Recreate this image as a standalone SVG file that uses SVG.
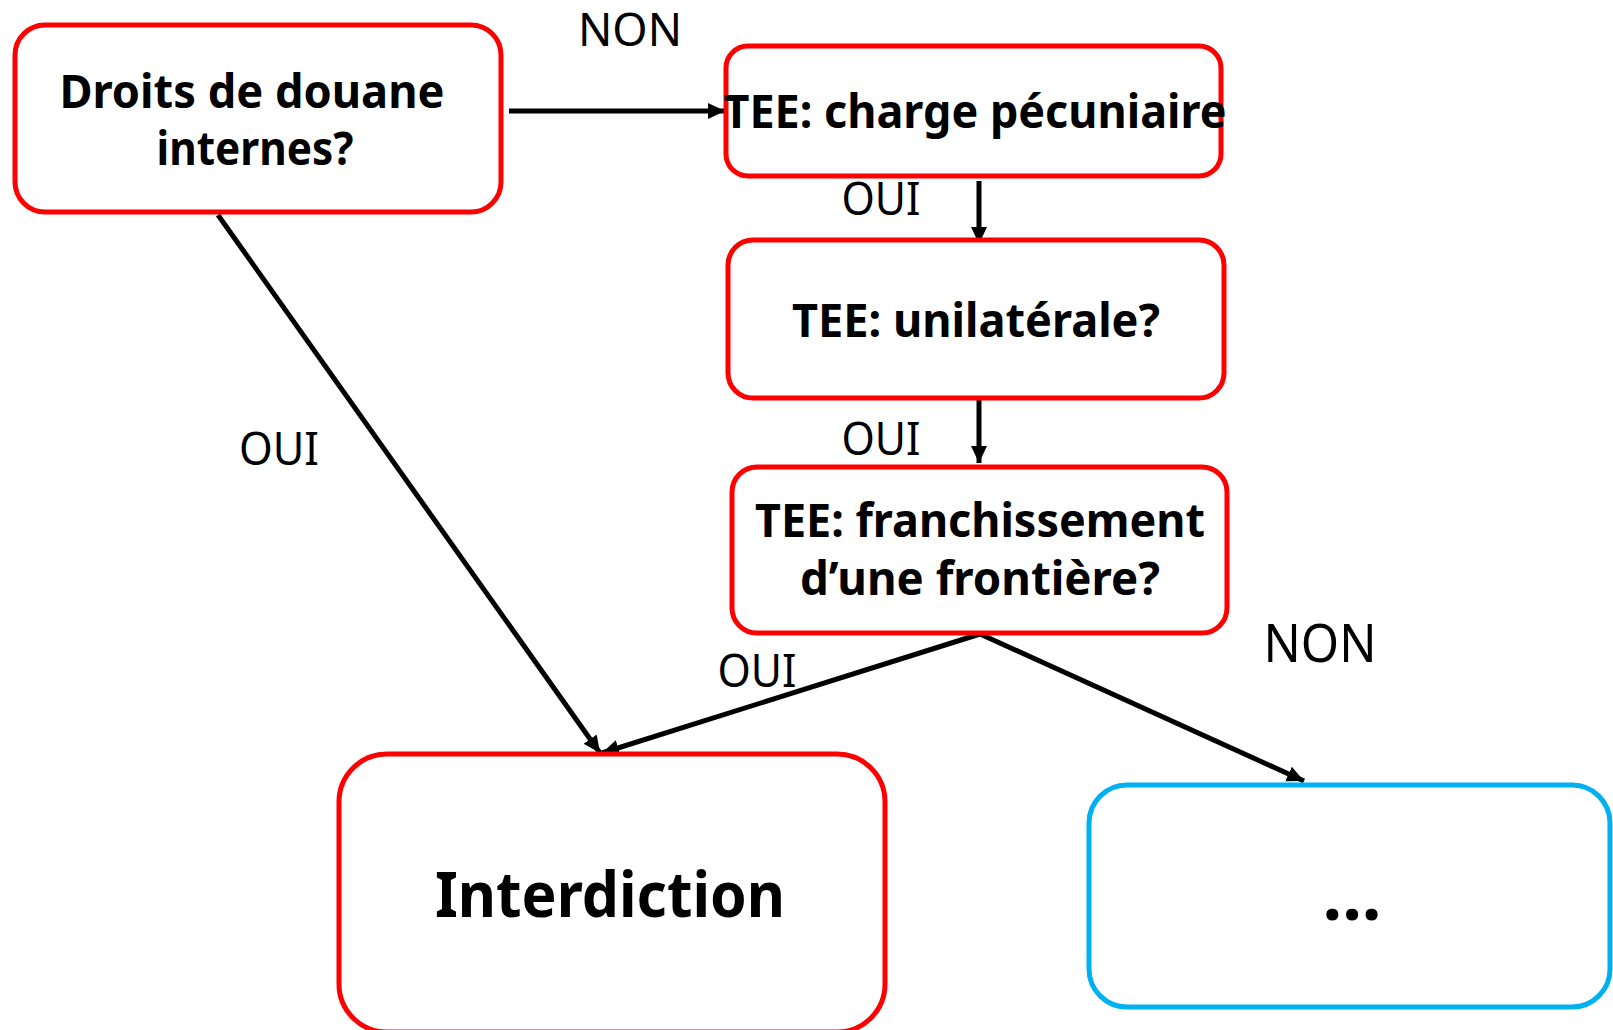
<svg xmlns="http://www.w3.org/2000/svg" width="1613" height="1030" viewBox="0 0 1613 1030">
  <defs>
    <marker id="arr" markerUnits="userSpaceOnUse" markerWidth="18" markerHeight="18" viewBox="0 0 18 18" refX="17" refY="9" orient="auto">
      <path d="M0,1 L17,9 L0,17 Z" fill="#000"/>
    </marker>
    <style>
      .box { fill: #fff; stroke: #ff0000; stroke-width: 5; }
      .box2 { fill: #fff; stroke: #00b0f0; stroke-width: 5; }
      .t { font-family: "Noto Sans", "Open Sans", sans-serif; font-weight: bold; font-size: 46px; fill: #000; text-anchor: middle; }
      .lbl { font-family: "Noto Sans", "Open Sans", sans-serif; font-size: 46px; fill: #000; text-anchor: middle; }
      .c { stroke: #000; stroke-width: 5; fill: none; marker-end: url(#arr); }
    </style>
  </defs>
  <rect width="1613" height="1030" fill="#fff"/>

  <g id="connectors">
    <line class="c" x1="509" y1="111" x2="725" y2="111"/>
    <line class="c" x1="979" y1="181" x2="979" y2="244"/>
    <line class="c" x1="979" y1="399" x2="979" y2="463"/>
    <line class="c" x1="218" y1="215" x2="600" y2="753"/>
    <line class="c" x1="980" y1="634" x2="602" y2="753"/>
    <line class="c" x1="980" y1="634" x2="1304" y2="781"/>
  </g>

  <g id="labels">
    <text class="lbl" x="630" y="46" textLength="104" lengthAdjust="spacingAndGlyphs">NON</text>
    <text class="lbl" x="881" y="215" textLength="79" lengthAdjust="spacingAndGlyphs">OUI</text>
    <text class="lbl" x="881" y="455" textLength="79" lengthAdjust="spacingAndGlyphs">OUI</text>
    <text class="lbl" x="279" y="465" textLength="80" lengthAdjust="spacingAndGlyphs">OUI</text>
    <text class="lbl" x="757" y="687" textLength="79" lengthAdjust="spacingAndGlyphs">OUI</text>
    <text class="lbl" x="1320" y="662" style="font-size:52px" textLength="113" lengthAdjust="spacingAndGlyphs">NON</text>
  </g>

  <g id="node-droits">
    <rect class="box" x="15" y="25" width="486" height="187" rx="30"/>
    <text class="t" x="252" y="108" textLength="385" lengthAdjust="spacingAndGlyphs">Droits de douane</text>
    <text class="t" x="255" y="165" textLength="197" lengthAdjust="spacingAndGlyphs">internes?</text>
  </g>

  <g id="node-charge">
    <rect class="box" x="726" y="46" width="495" height="130" rx="22"/>
    <text class="t" x="975" y="128" textLength="503" lengthAdjust="spacingAndGlyphs">TEE: charge pécuniaire</text>
  </g>

  <g id="node-unilaterale">
    <rect class="box" x="728" y="240" width="496" height="158" rx="25"/>
    <text class="t" x="976" y="337" textLength="368" lengthAdjust="spacingAndGlyphs">TEE: unilatérale?</text>
  </g>

  <g id="node-frontiere">
    <rect class="box" x="732" y="467" width="495" height="166" rx="25"/>
    <text class="t" x="980" y="537" textLength="450" lengthAdjust="spacingAndGlyphs">TEE: franchissement</text>
    <text class="t" x="980" y="595" textLength="360" lengthAdjust="spacingAndGlyphs">d’une frontière?</text>
  </g>

  <g id="node-interdiction">
    <rect class="box" x="339" y="754" width="546" height="278" rx="48"/>
    <text class="t" x="610" y="917" style="font-size:63px" textLength="350" lengthAdjust="spacingAndGlyphs">Interdiction</text>
  </g>

  <g id="node-suite">
    <rect class="box2" x="1089" y="785" width="521" height="222" rx="38"/>
    <text class="t" x="1352" y="920" style="font-size:70px">...</text>
  </g>
</svg>
